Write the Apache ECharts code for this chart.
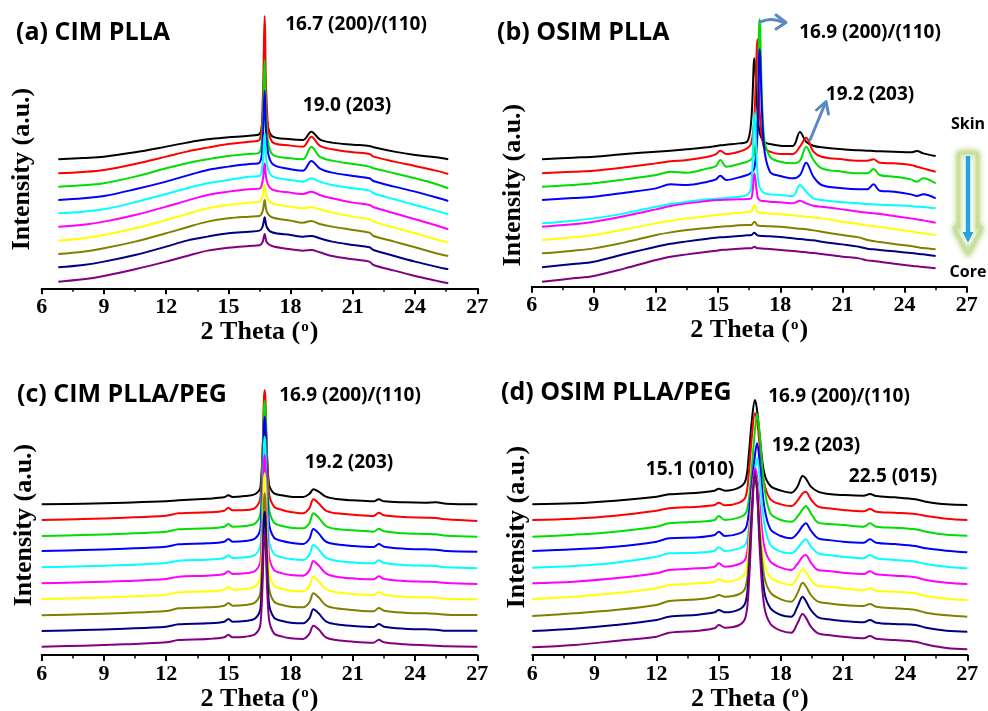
<!DOCTYPE html>
<html>
<head>
<meta charset="utf-8">
<script src="https://cdn.jsdelivr.net/npm/echarts@6/dist/echarts.min.js"></script>
<style>
  html, body { margin: 0; padding: 0; background: #fff; }
  #chart { width: 988px; height: 711px; }
</style>
</head>
<body>
<div id="chart"></div>
<script>
// ---- 2-theta sampling grids (degrees) for each panel ----
const thetaA = [6.8, 8, 9, 10.5, 12, 13, 14, 15, 16, 16.5, 16.65, 16.75, 16.85, 17.1, 18, 18.6, 19.0, 19.4, 20, 21, 21.8, 22, 23, 24, 25, 25.6];
const thetaB = [6.5, 8, 9, 10.5, 12, 12.7, 13.5, 14.5, 14.9, 15.1, 15.4, 16, 16.4, 16.6, 16.75, 16.9, 17.0, 17.2, 17.5, 18, 18.6, 18.95, 19.25, 19.6, 20, 21, 21.8, 22.2, 22.5, 22.8, 23.5, 24.3, 24.6, 24.9, 25.5];
const thetaC = [6, 8, 10, 12, 12.6, 14, 14.8, 15.0, 15.2, 15.8, 16.3, 16.55, 16.75, 16.95, 17.2, 17.6, 18, 18.6, 18.9, 19.1, 19.35, 19.7, 20.2, 21, 22, 22.25, 22.5, 23.5, 24.5, 25.0, 25.5, 27];
const thetaD = [6, 8, 10, 12, 12.6, 14, 14.8, 15.0, 15.3, 16.0, 16.3, 16.45, 16.6, 16.75, 16.85, 17.0, 17.2, 17.5, 18, 18.5, 18.8, 19.05, 19.2, 19.45, 19.8, 20.3, 21, 22, 22.3, 22.6, 23.5, 24.5, 25, 26, 27];

// ---- stacked intensities (a.u., offset for clarity), skin layer first, core layer last ----
const cimPLLA = [
  [387, 391, 395, 408, 425, 437, 447, 453, 458, 463, 516, 640, 510, 457, 447, 445, 470, 447, 437, 431, 427, 423, 410, 400, 393, 387],
  [345, 349, 355, 373, 395, 410, 422, 433, 440, 445, 557, 817, 555, 440, 428, 425, 455, 428, 417, 408, 403, 395, 380, 367, 353, 343],
  [305, 309, 315, 335, 360, 375, 387, 397, 403, 407, 490, 685, 488, 403, 390, 387, 425, 395, 383, 373, 365, 360, 345, 330, 313, 300],
  [265, 270, 277, 297, 320, 338, 355, 365, 373, 377, 442, 593, 440, 375, 357, 353, 382, 360, 347, 337, 330, 322, 305, 290, 273, 262],
  [225, 230, 237, 258, 283, 300, 315, 325, 335, 337, 375, 465, 375, 337, 325, 320, 330, 320, 310, 300, 293, 285, 267, 250, 233, 222],
  [185, 191, 200, 220, 245, 263, 280, 290, 297, 299, 322, 375, 322, 297, 287, 283, 290, 280, 270, 257, 250, 243, 225, 207, 189, 177],
  [143, 150, 160, 180, 205, 223, 240, 250, 257, 260, 275, 310, 274, 255, 245, 240, 243, 237, 227, 215, 207, 200, 182, 165, 147, 137],
  [103, 110, 120, 140, 165, 183, 200, 210, 215, 217, 231, 265, 230, 213, 203, 197, 202, 193, 185, 175, 167, 157, 140, 123, 105, 97],
  [63, 70, 80, 100, 125, 143, 155, 165, 170, 173, 185, 213, 184, 168, 160, 155, 157, 150, 140, 130, 123, 115, 97, 80, 65, 57],
  [20, 27, 37, 57, 80, 97, 113, 122, 127, 129, 139, 163, 138, 127, 117, 113, 115, 108, 97, 87, 80, 70, 53, 37, 23, 15]
];

const osimPLLA = [
  [382, 387, 390, 398, 405, 408, 412, 418, 422, 424, 426, 430, 435, 500, 685, 520, 465, 435, 428, 423, 422, 464, 435, 423, 418, 412, 409, 408, 407, 406, 405, 403, 407, 400, 392],
  [340, 345, 348, 358, 370, 376, 380, 390, 398, 408, 398, 405, 415, 430, 510, 742, 530, 420, 405, 398, 398, 420, 447, 405, 390, 382, 378, 378, 382, 372, 370, 365, 360, 355, 345],
  [300, 305, 310, 322, 335, 345, 342, 355, 362, 380, 360, 368, 375, 382, 400, 510, 802, 460, 390, 375, 370, 378, 420, 380, 355, 345, 340, 340, 353, 335, 330, 322, 315, 325, 310],
  [260, 266, 270, 282, 295, 307, 305, 315, 322, 333, 320, 328, 335, 342, 355, 460, 712, 430, 345, 332, 325, 335, 372, 330, 305, 295, 292, 292, 307, 288, 285, 277, 272, 277, 265],
  [190, 198, 205, 220, 240, 248, 255, 262, 264, 265, 266, 270, 275, 300, 520, 340, 300, 282, 277, 275, 272, 305, 285, 265, 260, 253, 250, 248, 247, 246, 244, 242, 240, 239, 235],
  [180, 187, 195, 212, 232, 242, 250, 257, 260, 260, 261, 262, 263, 265, 340, 270, 260, 257, 255, 253, 250, 258, 250, 243, 240, 232, 225, 222, 220, 218, 212, 205, 202, 199, 192],
  [140, 148, 155, 172, 190, 198, 205, 212, 215, 217, 218, 222, 224, 226, 245, 224, 222, 220, 219, 217, 214, 212, 210, 208, 205, 195, 188, 184, 182, 179, 173, 166, 163, 160, 155],
  [100, 108, 115, 133, 155, 163, 170, 176, 179, 180, 181, 184, 185, 185, 195, 184, 183, 182, 181, 180, 176, 174, 172, 169, 165, 155, 148, 140, 137, 134, 128, 122, 119, 116, 112],
  [58, 68, 75, 98, 120, 129, 136, 144, 147, 148, 149, 152, 154, 155, 162, 154, 153, 152, 151, 149, 145, 143, 141, 139, 135, 127, 120, 114, 112, 110, 106, 101, 99, 97, 92],
  [15, 25, 32, 55, 80, 90, 97, 105, 108, 110, 111, 114, 115, 115, 120, 115, 115, 114, 113, 110, 107, 105, 103, 101, 98, 90, 85, 79, 77, 75, 69, 63, 61, 59, 55]
];

const cimPLLAPEG = [
  [452, 454, 457, 461, 464, 469, 473, 479, 474, 477, 483, 505, 745, 515, 485, 479, 475, 474, 483, 497, 490, 475, 468, 464, 461, 467, 461, 458, 457, 458, 454, 452],
  [405, 408, 412, 418, 425, 428, 433, 442, 434, 435, 442, 475, 795, 490, 445, 435, 429, 425, 440, 467, 455, 433, 425, 421, 417, 427, 419, 414, 412, 411, 407, 402],
  [357, 360, 364, 370, 377, 380, 385, 393, 385, 387, 395, 427, 763, 445, 397, 387, 382, 380, 395, 425, 412, 387, 378, 374, 370, 379, 371, 365, 363, 362, 358, 355],
  [312, 315, 319, 325, 332, 335, 340, 348, 340, 342, 350, 382, 715, 400, 352, 342, 337, 333, 348, 378, 365, 340, 332, 327, 324, 333, 325, 319, 317, 316, 312, 310],
  [263, 266, 270, 276, 283, 286, 291, 299, 291, 293, 301, 333, 655, 350, 303, 293, 288, 285, 300, 330, 317, 292, 283, 278, 275, 284, 276, 270, 268, 267, 263, 260],
  [215, 218, 222, 228, 235, 238, 243, 251, 243, 245, 253, 285, 600, 302, 255, 245, 240, 238, 253, 282, 269, 245, 235, 230, 227, 236, 228, 222, 220, 219, 216, 213],
  [168, 171, 175, 181, 188, 191, 196, 204, 196, 198, 206, 238, 545, 255, 208, 198, 193, 191, 206, 235, 222, 198, 188, 183, 180, 189, 181, 175, 173, 172, 169, 167],
  [119, 122, 126, 132, 140, 143, 148, 156, 148, 150, 158, 190, 485, 207, 160, 150, 145, 143, 157, 185, 173, 149, 140, 135, 131, 141, 133, 127, 125, 124, 121, 120],
  [72, 75, 79, 85, 92, 95, 100, 108, 100, 102, 110, 142, 430, 159, 112, 102, 97, 95, 110, 137, 125, 101, 92, 87, 84, 93, 85, 79, 77, 76, 73, 73],
  [25, 28, 32, 38, 45, 48, 53, 61, 53, 55, 63, 95, 370, 112, 65, 55, 50, 48, 63, 88, 77, 53, 45, 40, 37, 46, 38, 32, 29, 28, 26, 25]
];

const osimPLLAPEG = [
  [452, 455, 463, 475, 482, 487, 493, 499, 493, 503, 525, 600, 705, 765, 735, 645, 545, 507, 493, 487, 505, 537, 530, 505, 490, 483, 480, 478, 483, 477, 473, 467, 460, 452, 450],
  [405, 409, 418, 433, 440, 445, 450, 457, 449, 457, 475, 545, 655, 725, 705, 615, 515, 467, 452, 447, 463, 485, 490, 467, 445, 440, 435, 431, 438, 430, 427, 423, 417, 409, 405],
  [355, 361, 370, 385, 395, 400, 405, 417, 405, 413, 425, 465, 565, 675, 723, 645, 505, 425, 405, 400, 415, 437, 447, 425, 397, 393, 390, 385, 395, 385, 382, 377, 370, 361, 358],
  [312, 317, 325, 340, 350, 353, 360, 370, 357, 365, 380, 425, 515, 600, 635, 565, 445, 377, 357, 350, 365, 387, 395, 373, 350, 345, 340, 337, 347, 337, 333, 327, 320, 313, 308],
  [262, 267, 277, 295, 305, 307, 313, 323, 312, 320, 333, 375, 465, 555, 590, 515, 395, 330, 310, 305, 320, 340, 347, 325, 305, 300, 295, 290, 300, 290, 285, 280, 273, 265, 260],
  [215, 220, 230, 245, 255, 260, 265, 275, 265, 273, 290, 355, 485, 560, 535, 435, 325, 280, 262, 255, 273, 295, 300, 277, 255, 252, 247, 243, 251, 242, 238, 233, 225, 217, 213],
  [168, 175, 185, 200, 210, 215, 220, 227, 220, 229, 250, 325, 465, 545, 515, 385, 275, 233, 217, 210, 233, 257, 250, 225, 207, 205, 200, 195, 200, 193, 190, 185, 177, 169, 165],
  [117, 125, 135, 150, 162, 167, 175, 180, 175, 183, 205, 285, 445, 540, 505, 355, 235, 187, 167, 160, 185, 217, 207, 180, 160, 155, 150, 147, 153, 145, 140, 135, 127, 119, 115],
  [72, 79, 90, 105, 115, 121, 128, 135, 128, 137, 160, 245, 425, 540, 495, 325, 190, 140, 120, 115, 145, 175, 163, 135, 113, 107, 102, 98, 105, 97, 93, 90, 82, 73, 70],
  [23, 30, 42, 55, 67, 73, 80, 90, 82, 90, 115, 205, 405, 550, 495, 295, 145, 93, 73, 67, 95, 123, 113, 85, 65, 60, 55, 50, 57, 49, 45, 40, 32, 21, 17]
];

// ---- axis ticks and text ----
const thetaTicks = { min: 6, max: 27, step: 3 };
const panelTitles = ['(a) CIM PLLA', '(b) OSIM PLLA', '(c) CIM PLLA/PEG', '(d) OSIM PLLA/PEG'];
const layerNames = ['Layer 1', 'Layer 2', 'Layer 3', 'Layer 4', 'Layer 5', 'Layer 6', 'Layer 7', 'Layer 8', 'Layer 9', 'Layer 10'];

// ---- styling ----
const layerColors = ['#000000', '#ff0000', '#00dd00', '#0000ff', '#00ffff', '#ff00ff', '#ffff00', '#808000', '#000080', '#800080'];
const serif = '"Liberation Serif", "Times New Roman", serif';
const sans = '"Open Sans", "Noto Sans", sans-serif';

const panels = [
  { theta: thetaA, curves: cimPLLA,     grid: { left: 41.7,  top: 8.3, width: 435.6, height: 280 } },
  { theta: thetaB, curves: osimPLLA,    grid: { left: 531.7, top: 6.7, width: 435,   height: 280 } },
  { theta: thetaC, curves: cimPLLAPEG,  grid: { left: 41.7,  top: 375, width: 435.6, height: 280 } },
  { theta: thetaD, curves: osimPLLAPEG, grid: { left: 532.3, top: 375, width: 435,   height: 280 } }
];

const grids = [], xAxes = [], yAxes = [], series = [];
panels.forEach((p, pi) => {
  grids.push(Object.assign({ containLabel: false, outerBoundsMode: 'none' }, p.grid));
  xAxes.push({
    gridIndex: pi, type: 'value',
    min: thetaTicks.min, max: thetaTicks.max, interval: thetaTicks.step,
    axisLine: { show: true, onZero: false, lineStyle: { color: '#000', width: 2 } },
    axisTick: { show: true, inside: false, length: 6, lineStyle: { color: '#000', width: 2 } },
    minorTick: { show: true, splitNumber: 2, length: 3.5, lineStyle: { color: '#000', width: 1.5 } },
    splitLine: { show: false },
    axisLabel: { color: '#000', fontFamily: serif, fontWeight: 'bold', fontSize: 22, margin: 8 },
    name: '{n|2 Theta (}{s|o}{n|)}',
    nameLocation: 'middle', nameGap: 29,
    nameTextStyle: {
      rich: {
        n: { fontFamily: serif, fontWeight: 'bold', fontSize: 26, color: '#000' },
        s: { fontFamily: serif, fontWeight: 'bold', fontSize: 15, color: '#000', verticalAlign: 'top', padding: [0, 1, 10, 1] }
      }
    }
  });
  yAxes.push({
    gridIndex: pi, type: 'value', min: 0, max: 840,
    axisLine: { show: false }, axisTick: { show: false }, axisLabel: { show: false }, splitLine: { show: false }
  });
  p.curves.forEach((vals, k) => {
    series.push({
      type: 'line', name: layerNames[k], xAxisIndex: pi, yAxisIndex: pi,
      data: p.theta.map((t, i) => [t, vals[i]]),
      smooth: 0.35,
      showSymbol: false, symbol: 'none', silent: true, clip: false,
      lineStyle: { color: layerColors[k], width: 2, join: 'round' },
      itemStyle: { color: layerColors[k] },
      z: 2 + k
    });
  });
});

function label(text, x, y, size, align, family, rotation) {
  return {
    type: 'text', x: x, y: y, z: 100, rotation: rotation || 0,
    style: {
      text: text, fill: '#000', font: 'bold ' + size + 'px ' + (family || sans),
      align: align || 'center', verticalAlign: 'middle',
      textAlign: align || 'center', textVerticalAlign: 'middle'
    }
  };
}

const arrowBlue = '#5a88c2';
const graphics = [
  label(panelTitles[0], 16, 33, 25, 'left'),
  label(panelTitles[1], 497, 33, 25, 'left'),
  label(panelTitles[2], 17, 395, 25, 'left'),
  label(panelTitles[3], 501, 393, 25, 'left'),
  // vertical intensity titles
  label('Intensity (a.u.)', 22, 169, 26, 'center', serif, Math.PI / 2),
  label('Intensity (a.u.)', 513, 185, 26, 'center', serif, Math.PI / 2),
  label('Intensity (a.u.)', 24, 525, 26, 'center', serif, Math.PI / 2),
  label('Intensity (a.u.)', 517, 527, 26, 'center', serif, Math.PI / 2),
  // reflection annotations
  label('16.7 (200)/(110)', 356, 25, 19),
  label('19.0 (203)', 347, 106, 19),
  label('16.9 (200)/(110)', 870, 33, 19),
  label('19.2 (203)', 870, 95, 19),
  label('16.9 (200)/(110)', 350, 396, 19),
  label('19.2 (203)', 349, 463, 19),
  label('16.9 (200)/(110)', 839, 397, 19),
  label('19.2 (203)', 816, 446, 19),
  label('15.1 (010)', 690, 470, 19),
  label('22.5 (015)', 893, 477, 19),
  label('Skin', 968, 124, 16),
  label('Core', 968, 272, 16),
  // pointer arrows in panel (b)
  { type: 'polyline', z: 100, shape: { points: [[760, 22], [771, 19.5], [784, 22.5]], smooth: 0.4 },
    style: { stroke: arrowBlue, lineWidth: 3, fill: null, lineCap: 'round' } },
  { type: 'polyline', z: 100, shape: { points: [[776, 15], [786, 22.5], [776, 29]] },
    style: { stroke: arrowBlue, lineWidth: 3, fill: null, lineCap: 'round', lineJoin: 'round' } },
  { type: 'line', z: 100, shape: { x1: 810, y1: 140, x2: 825, y2: 104 },
    style: { stroke: arrowBlue, lineWidth: 3, lineCap: 'round' } },
  { type: 'polyline', z: 100, shape: { points: [[816.5, 110], [826, 101.5], [828.5, 114]] },
    style: { stroke: arrowBlue, lineWidth: 3, fill: null, lineCap: 'round', lineJoin: 'round' } },
  // skin-to-core direction arrow
  { type: 'polygon', z: 100,
    shape: { points: [[959, 153], [977, 153], [977, 228], [981.5, 228], [968, 254], [954.5, 228], [959, 228]] },
    style: { fill: '#ffffff', stroke: '#c9df9c', lineWidth: 3, shadowBlur: 6, shadowColor: 'rgba(150,195,70,0.9)' } },
  { type: 'line', z: 101, shape: { x1: 968, y1: 156, x2: 968, y2: 234 },
    style: { stroke: '#27a4dd', lineWidth: 4.5 } },
  { type: 'polygon', z: 101, shape: { points: [[962.5, 232], [973.5, 232], [968, 242.5]] },
    style: { fill: '#27a4dd' } }
];

const chart = echarts.init(document.getElementById('chart'), null, { renderer: 'canvas' });
chart.setOption({
  backgroundColor: '#ffffff',
  animation: false,
  grid: grids,
  xAxis: xAxes,
  yAxis: yAxes,
  series: series,
  graphic: graphics
});
</script>
</body>
</html>
